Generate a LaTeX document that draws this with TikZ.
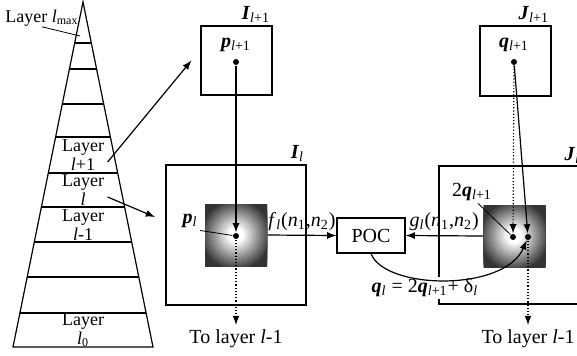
\documentclass[tikz,border=0pt]{standalone}
\usepackage{fontspec}
\setmainfont{Liberation Serif}
\usetikzlibrary{positioning}
\newcommand{\il}{\textit{l}}
\newcommand{\bv}[2]{\textbf{\textit{#1}}\textsubscript{#2}}
\begin{document}
\begin{tikzpicture}[x=0.5pt,y=-0.5pt,>=latex,semithick,
    imgbox/.style={draw,inner sep=0pt},
    pix/.style={minimum size=31pt,inner sep=0pt},
    dot/.style={circle,fill,inner sep=0pt,minimum size=3pt},
    layer/.style={align=center,font=\fontsize{9}{8}\selectfont,inner sep=0pt},
    lbl/.style={inner sep=1pt}]
        \useasboundingbox (0,0) rectangle (577,355);
        % pyramid of layers
        \draw (13,347) -- (83,2) -- (153,347) -- cycle;
        \foreach \y in {43,69,104,137,173,207,242,277,313}
            \draw ({83-0.2029*(\y-2)},\y) -- ({83+0.2029*(\y-2)},\y);
        \node [layer] (lmax) at (42,18) {Layer \il\textsubscript{max}};
        \node [layer] (lnext) at (83,155) {Layer\\\il+1};
        \node [layer] (lcur) at (83,190) {Layer\\\il};
        \node [layer] (lprev) at (83,225) {Layer\\\il-1};
        \node [layer] (lzero) at (83,330) {Layer\\\il\textsubscript{0}};
        \coordinate (lmaxpt) at (80,36);
        \draw [thin] (lmax.south) -- (lmaxpt);
        % images
        \node [imgbox,minimum width=35.5pt,minimum height=34.5pt] (Inext) at (236.5,60.5) {};
        \node [imgbox,minimum size=70pt] (Icur) at (236,235) {};
        \node [imgbox,minimum width=35.5pt,minimum height=35pt] (Jnext) at (515.5,61) {};
        \draw (580,166) -- (439,166) -- (439,304) -- (580,304);
        \node [lbl,anchor=south east] (Inextlbl) at (Inext.north east) {\bv{I}{\il+1}};
        \node [lbl,anchor=south east] (Icurlbl) at (Icur.north east) {\bv{I}{\il}};
        \node [lbl,anchor=south east] (Jnextlbl) at (Jnext.north east) {\bv{J}{\il+1}};
        \node [lbl,anchor=south west] (Jcurlbl) at (562,166) {\bv{J}{\il}};
        \coordinate (lcurend) at (155,217);
        \draw [->] ([xshift=1.5pt,yshift=-3.5pt]lnext.east) -- ([xshift=-4.5pt]Inext.west);
        \draw [->] ([xshift=1.5pt,yshift=-3.5pt]lcur.east) -- (lcurend);
        % blocks (bright centre, dark rim)
        \foreach \cx/\cy in {236/235,514.5/236} {
            \begin{scope}
                \clip (\cx-31,\cy-31) rectangle (\cx+31,\cy+31);
                \foreach \f in {1.45,1.40,...,0.05} {
                    \pgfmathsetmacro\shadeval{min(80,max(0,(\f-0.25)*88))}
                    \fill [black!\shadeval] (\cx,\cy) circle ({\f*31});
                }
            \end{scope}
        }
        \node [pix] (Ipix) at (236,235) {};
        \node [pix] (Jpix) at (514.5,236) {};
        \node [dot] (pnext) at (236,62) {};
        \node [dot] (pcur) at (236,236) {};
        \node [dot] (qnext) at (514,62) {};
        \node [dot] (qtwo) at (513,237) {};
        \node [dot] (qcur) at (528,237) {};
        \node [lbl,above=2pt of pnext] (pnextlbl) {\bv{p}{\il+1}};
        \node [lbl,above=2pt of qnext] (qnextlbl) {\bv{q}{\il+1}};
        \node [lbl] (pcurlbl) at (190,221) {\bv{p}{\il}};
        \node [lbl] (qtwolbl) at (472,192) {2\bv{q}{\il+1}};
        \draw [thin] (pcurlbl.south east) -- (pcur);
        \draw [thin] ([xshift=3pt]qtwolbl.south) -- (qtwo);
        \node [imgbox,minimum width=34pt,minimum height=17.5pt] (poc) at (371,235.5) {POC};
        \draw [->] (Ipix.east) -- node [above,inner sep=2pt] (flbl) {\textit{f}\textsubscript{\il}(\textit{n}\textsubscript{1},\textit{n}\textsubscript{2})} (poc.west);
        \draw [->] (Jpix.west) -- node [above,inner sep=2pt] (glbl) {\textit{g}\textsubscript{\il}(\textit{n}\textsubscript{1},\textit{n}\textsubscript{2})} (poc.east);
        \draw [->] (pnext) -- (pcur);
        \draw [->,densely dotted] (qnext) -- (qtwo);
        \draw [->] (qnext) -- (qcur);
        \node [fill=white,inner sep=1pt] (eqn) at (425,288) {\bv{q}{\il} = 2\bv{q}{\il+1}+ δ\textsubscript{\il}};
        \draw [->] (poc.south) .. controls (385,290) and (505,292) .. (qcur);
        % down to next layer
        \coordinate (Iout) at (236,325);
        \coordinate (Jout) at (528,325);
        \draw [->,densely dotted] (pcur) -- (Iout);
        \draw [->,densely dotted] (qcur) -- (Jout);
        \node [below,inner sep=2pt] (Ito) at (Iout) {To layer \il-1};
        \node [below,inner sep=2pt] (Jto) at (Jout) {To layer \il-1};
\end{tikzpicture}
\end{document}
